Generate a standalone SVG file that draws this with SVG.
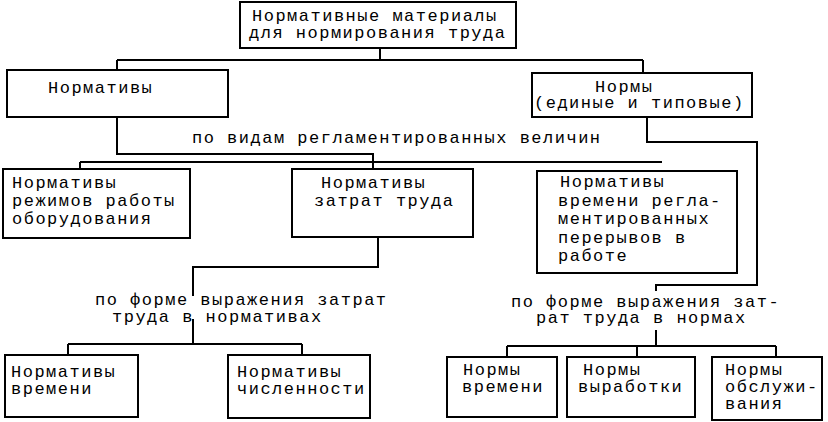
<svg xmlns="http://www.w3.org/2000/svg" width="828" height="422" viewBox="0 0 828 422">
<style>
.box{fill:#fff;stroke:#000;stroke-width:2}
.ln{fill:none;stroke:#000;stroke-width:2}
text{font-family:"Liberation Mono","DejaVu Sans Mono",monospace;font-size:17px;letter-spacing:1.5px;fill:#000}
</style>
<rect width="828" height="422" fill="#fff"/>
<g id="connectors">
<path class="ln" d="M380,48 V60 M117,60 H643 M117,60 V70 M643,60 V73"/>
<path class="ln" d="M117,117 V154 H373 V169 M80,162 H662 M80,162 V169"/>
<path class="ln" d="M647,117 V142 H757 V285 H656 V291"/>
<path class="ln" d="M378,237 V267 H193 V296 M193,319 V344 M68,344 H302 M68,344 V355 M302,344 V355"/>
<path class="ln" d="M656,330 V346 M507,346 H776 M507,346 V357 M637,346 V357 M776,346 V357"/>
</g>
<g id="n-root"><rect class="box" x="240" y="2" width="276" height="46"/>
<text x="252" y="21">Нормативные материалы</text><text x="249" y="38">для нормирования труда</text></g>
<g id="n-normativy"><rect class="box" x="7" y="70" width="221" height="47"/>
<text x="48" y="93">Нормативы</text></g>
<g id="n-normy"><rect class="box" x="532" y="73" width="220" height="44"/>
<text x="595" y="92">Нормы</text><text x="534" y="108">(единые и типовые)</text></g>
<g id="l-vidy"><text x="192" y="143">по видам регламентированных величин</text></g>
<g id="n-rezhim"><rect class="box" x="3" y="169" width="187" height="69"/>
<text x="12" y="188">Нормативы</text><text x="12" y="206">режимов работы</text><text x="12" y="224">оборудования</text></g>
<g id="n-zatrat"><rect class="box" x="292" y="169" width="181" height="68"/>
<text x="321" y="188">Нормативы</text><text x="314" y="206">затрат труда</text></g>
<g id="n-pereryv"><rect class="box" x="537" y="171" width="200" height="102"/>
<text x="560" y="187">Нормативы</text><text x="558" y="205.5">времени регла-</text><text x="558" y="224">ментированных</text><text x="558" y="242.5">перерывов в</text><text x="558" y="261">работе</text></g>
<g id="l-forma1"><text x="95" y="305">по форме выражения затрат</text><text x="112" y="322">труда в нормативах</text></g>
<g id="l-forma2"><text x="511" y="307">по форме выражения зат-</text><text x="536" y="323">рат труда в нормах</text></g>
<g id="n-nvrem"><rect class="box" x="5" y="355" width="133" height="62"/>
<text x="11" y="377">Нормативы</text><text x="11" y="394">времени</text></g>
<g id="n-nchisl"><rect class="box" x="228" y="355" width="142" height="63"/>
<text x="237" y="377">Нормативы</text><text x="237" y="394">численности</text></g>
<g id="n-vrem"><rect class="box" x="447" y="357" width="110" height="60"/>
<text x="463" y="375">Нормы</text><text x="462" y="392">времени</text></g>
<g id="n-vyrab"><rect class="box" x="567" y="357" width="128" height="60"/>
<text x="583" y="375">Нормы</text><text x="578" y="392">выработки</text></g>
<g id="n-obsl"><rect class="box" x="712" y="357" width="110" height="63"/>
<text x="725" y="375">Нормы</text><text x="725" y="392">обслужи-</text><text x="725" y="409">вания</text></g>
</svg>
